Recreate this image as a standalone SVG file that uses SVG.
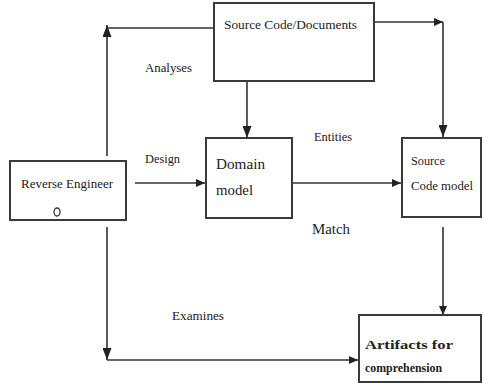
<svg xmlns="http://www.w3.org/2000/svg" width="484" height="384" viewBox="0 0 484 384">
  <style>
    .box { fill: #ffffff; stroke: #3a3a3a; stroke-width: 2; }
    .wire { fill: none; stroke: #333333; stroke-width: 1.6; }
    text { font-family: "Liberation Serif", "Times New Roman", serif; fill: #222222; }
    .node { font-size: 13px; }
    .big { font-size: 15px; }
    .lbl { font-size: 12px; }
    .bold { font-size: 13px; font-weight: bold; }
  </style>
  <defs>
    <marker id="arrow" markerUnits="userSpaceOnUse" markerWidth="9" markerHeight="8" refX="9" refY="4" orient="auto">
      <path d="M0,0 L9,4 L0,8 z" fill="#222222"/>
    </marker>
    <marker id="arrowBig" markerUnits="userSpaceOnUse" markerWidth="12" markerHeight="9" refX="12" refY="4.5" orient="auto">
      <path d="M0,0 L12,4.5 L0,9 z" fill="#222222"/>
    </marker>
  </defs>

  <rect width="484" height="384" fill="#ffffff"/>

  <!-- connectors -->
  <g id="connectors">
    <!-- Reverse Engineer analyses Source Code/Documents -->
    <path class="wire" d="M107,156 V25" marker-end="url(#arrowBig)"/>
    <path class="wire" d="M107,28 H214"/>
    <!-- Design: Reverse Engineer to Domain model -->
    <path class="wire" d="M135,183 H205" marker-end="url(#arrow)"/>
    <!-- Source Code/Documents to Domain model -->
    <path class="wire" d="M247,81 V138" marker-end="url(#arrowBig)"/>
    <!-- Source Code/Documents to Source Code model -->
    <path class="wire" d="M374,22 H443" marker-end="url(#arrow)"/>
    <path class="wire" d="M443,22 V137" marker-end="url(#arrowBig)"/>
    <!-- Entities: Domain model to Source Code model -->
    <path class="wire" d="M292,183 H401" marker-end="url(#arrow)"/>
    <!-- Source Code model to Artifacts -->
    <path class="wire" d="M443,227 V315" marker-end="url(#arrow)"/>
    <!-- Examines: Reverse Engineer to Artifacts -->
    <path class="wire" d="M107,227 V360" marker-end="url(#arrowBig)"/>
    <path class="wire" d="M107,360 H358" marker-end="url(#arrow)"/>
  </g>

  <!-- connector labels -->
  <g id="labels">
    <text class="lbl" x="145" y="72" textLength="47" lengthAdjust="spacingAndGlyphs">Analyses</text>
    <text class="lbl" x="145" y="163" textLength="35" lengthAdjust="spacingAndGlyphs">Design</text>
    <text class="lbl" x="314" y="141" textLength="38" lengthAdjust="spacingAndGlyphs">Entities</text>
    <text class="big" x="312" y="234" textLength="38" lengthAdjust="spacingAndGlyphs">Match</text>
    <text class="lbl" x="172" y="320" textLength="52" lengthAdjust="spacingAndGlyphs">Examines</text>
  </g>

  <g id="source-docs">
    <rect class="box" x="214" y="3" width="160" height="78"/>
    <text class="node" x="224" y="29" textLength="133" lengthAdjust="spacingAndGlyphs">Source Code/Documents</text>
  </g>

  <g id="reverse-engineer">
    <rect class="box" x="10" y="161" width="116" height="59"/>
    <text class="node" x="21" y="188" textLength="92" lengthAdjust="spacingAndGlyphs">Reverse Engineer</text>
    <ellipse cx="57" cy="212" rx="3" ry="4" fill="none" stroke="#333333" stroke-width="1.3"/>
  </g>

  <g id="domain-model">
    <rect class="box" x="206" y="138" width="86" height="80"/>
    <text class="big" x="216" y="169" textLength="49" lengthAdjust="spacingAndGlyphs">Domain</text>
    <text class="big" x="216" y="195" textLength="37" lengthAdjust="spacingAndGlyphs">model</text>
  </g>

  <g id="source-code-model">
    <rect class="box" x="402" y="138" width="79" height="79"/>
    <text class="node" x="411" y="165" textLength="34" lengthAdjust="spacingAndGlyphs">Source</text>
    <text class="node" x="411" y="190" textLength="62" lengthAdjust="spacingAndGlyphs">Code model</text>
  </g>

  <g id="artifacts">
    <rect class="box" x="359" y="315" width="122" height="67"/>
    <text class="bold" x="365" y="349" textLength="88" lengthAdjust="spacingAndGlyphs">Artifacts for</text>
    <text class="bold" x="365" y="372" textLength="77" lengthAdjust="spacingAndGlyphs">comprehension</text>
  </g>
</svg>
